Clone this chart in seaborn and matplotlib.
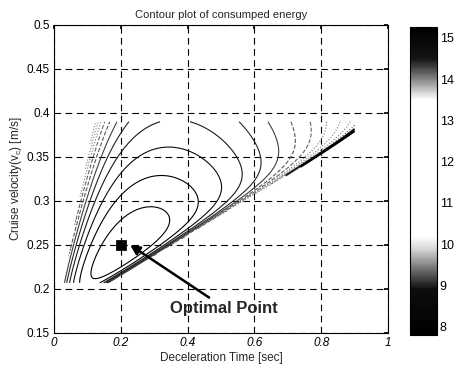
import numpy as np
import matplotlib
matplotlib.use("Agg")
import matplotlib.pyplot as plt
import seaborn as sns
from matplotlib.colors import LinearSegmentedColormap, Normalize
from matplotlib.cm import ScalarMappable

# ---- data ----
x_ticks = [0, 0.2, 0.4, 0.6, 0.8, 1]
x_tick_labels = ["0", "0.2", "0.4", "0.6", "0.8", "1"]
y_ticks = [0.15, 0.2, 0.25, 0.3, 0.35, 0.4, 0.45, 0.5]
y_tick_labels = ["0.15", "0.2", "0.25", "0.3", "0.35", "0.4", "0.45", "0.5"]
cbar_ticks = [8, 9, 10, 11, 12, 13, 14, 15]
cbar_range = [7.8, 15.26]

contour_levels = [8.3, 8.8, 9.3, 9.8, 10.3, 10.8, 11.3, 11.8,
                  12.3, 12.8, 13.3, 13.8, 14.3, 14.8]
optimal_time = [0.2]
optimal_velocity = [0.25]

# design space that was evaluated
decel_time = np.linspace(0.0, 0.9, 451)
cruise_velocity = np.linspace(0.207, 0.39, 381)

# energy model constants
accel_wall = [0.165, 0.23]     # accel time runs out: v = a0 + a1 * t
decel_wall = [-0.03, 0.5]      # decel barrier:       t = d0 + d1 * (v - 0.2)
left_edge = [0.025, 0.5]       # evaluated region starts at t = e0 + e1 * (v - 0.2)
u_opt, w_opt = 0.031, 0.215
u_min = 0.0042
decel_power = 1.6
weight_accel, weight_decel = 1.0, 15.5
energy_floor, energy_scale = 7.9, 0.0185

T, V = np.meshgrid(decel_time, cruise_velocity)
u = V - (accel_wall[0] + accel_wall[1] * T)
w = T - (decel_wall[0] + decel_wall[1] * (V - 0.2))
ok = (u > u_min) & (T > left_edge[0] + left_edge[1] * (V - 0.2))
u = np.where(ok, u, np.nan)
w = np.where(ok, w, np.nan)
p = decel_power
raw = (weight_accel * (1 / u + u / u_opt**2)
       + weight_decel * (1 / w + w**p / (p * w_opt**(p + 1))))
energy = energy_floor + energy_scale * (raw - np.nanmin(raw))

# ---- style ----
sns.set_theme(style="white")
plt.rcParams["font.family"] = ["Liberation Sans", "DejaVu Sans"]
plt.rcParams["mathtext.default"] = "regular"

# jet printed in greyscale: dark - light - dark
nodes = [(0.0, 0.0), (0.147, 0.05), (0.214, 0.45), (0.28, 0.85), (0.32, 1.0),
         (0.765, 1.0), (0.80, 0.75), (0.857, 0.35), (0.898, 0.08), (1.0, 0.0)]
cmap = LinearSegmentedColormap.from_list(
    "grayjet", [(q, (g, g, g)) for q, g in nodes])
norm = Normalize(*cbar_range)

line_grays = [0.0, 0.0, 0.05, 0.1, 0.15, 0.25, 0.35, 0.4,
              0.45, 0.5, 0.5, 0.35, 0.1, 0.0]
line_styles = ["-"] * 6 + ["--", "--"] + [":"] * 4 + ["-", "-"]
line_widths = [0.8] * 12 + [1.4, 1.8]

fig = plt.figure(figsize=(4.59, 3.69), dpi=100)
ax = fig.add_axes([0.1176, 0.0976, 0.7277, 0.8347])
cax = fig.add_axes([0.8932, 0.0921, 0.0588, 0.8347])

ax.contour(T, V, energy, levels=contour_levels,
           colors=[str(g) for g in line_grays],
           linestyles=line_styles, linewidths=line_widths)

sns.scatterplot(x=optimal_time, y=optimal_velocity, marker="s", s=45,
                color="black", edgecolor="black", ax=ax, zorder=5)
ax.annotate("Optimal Point", xy=(0.228, 0.25), xytext=(0.347, 0.178),
            fontsize=12, fontweight="bold", ha="left", va="center",
            arrowprops=dict(arrowstyle="-|>", color="black", lw=1.8,
                            mutation_scale=14, shrinkA=0, shrinkB=0,
                            relpos=(0.41, 1.0)))

ax.set_xlim(0, 1)
ax.set_ylim(0.15, 0.5)
ax.set_xticks(x_ticks)
ax.set_xticklabels(x_tick_labels, fontstyle="italic")
ax.set_yticks(y_ticks)
ax.set_yticklabels(y_tick_labels)
ax.tick_params(direction="in", length=3, top=True, right=True,
               labelsize=8.5, colors="black", pad=3)
ax.grid(True, linestyle=(0, (6, 4)), color="black", linewidth=0.8)
for s in ax.spines.values():
    s.set_color("black")
    s.set_linewidth(0.8)
ax.set_title("Contour plot of consumped energy", fontsize=8, pad=5)
ax.set_xlabel("Deceleration Time [sec]", fontsize=8.5, labelpad=2)
ax.set_ylabel("Cruise velocity(v$_c$) [m/s]", fontsize=8.5, labelpad=2)

sm = ScalarMappable(norm=norm, cmap=cmap)
cb = fig.colorbar(sm, cax=cax, ticks=cbar_ticks)
cb.outline.set_edgecolor("black")
cb.outline.set_linewidth(0.8)
cax.tick_params(direction="in", length=3, labelsize=9, colors="black", pad=2)

fig.savefig("out.png", dpi=100)
